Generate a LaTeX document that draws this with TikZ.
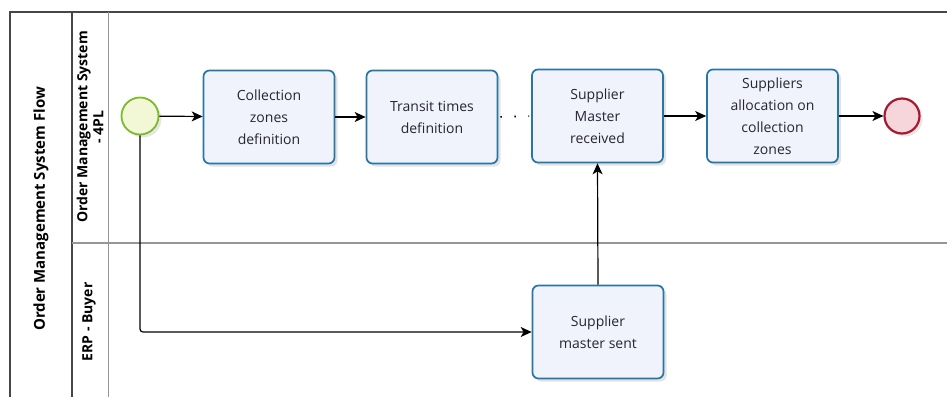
\documentclass[tikz,border=0pt]{standalone}
\usepackage{fontspec}
\setmainfont{Open Sans}
\usetikzlibrary{arrows.meta,shadows}
\definecolor{taskline}{RGB}{40,118,165}
\definecolor{taskfill}{RGB}{240,242,252}
\definecolor{startline}{RGB}{125,187,43}
\definecolor{startfill}{RGB}{242,248,214}
\definecolor{endline}{RGB}{166,25,46}
\definecolor{endfill}{RGB}{246,214,218}
\definecolor{poolline}{RGB}{70,70,70}
\definecolor{laneline}{RGB}{150,150,150}
\definecolor{txt}{RGB}{40,36,52}
\tikzset{
  task/.style={draw=taskline,line width=1.7pt,fill=taskfill,rounded corners=6pt,
    minimum width=131pt,minimum height=93pt,align=center,text=txt,
    font=\fontsize{14}{22}\selectfont,
    drop shadow={opacity=0.22,shadow xshift=3pt,shadow yshift=-3pt}},
  flow/.style={-{Stealth[length=11pt,width=10pt,inset=3pt]},line width=1.2pt},
  lanelabel/.style={rotate=90,align=center,font=\bfseries\fontsize{14}{16}\selectfont}
}
\begin{document}
\begin{tikzpicture}[x=1pt,y=-1pt]
\useasboundingbox (0,0) rectangle (947,397);
\draw[poolline,line width=1.2pt] (10,397) -- (10,12) -- (947,12);
\draw[poolline,line width=1.2pt] (72,12) -- (72,397);
\draw[laneline,line width=1pt] (108,12) -- (108,397);
\draw[laneline,line width=1.4pt] (72,243) -- (947,243);
\node[lanelabel,font=\bfseries\fontsize{15}{16}\selectfont] (pool) at (41,209) {Order Management System Flow};
\node[lanelabel] (lane4pl) at (90,127) {Order Management System\\- 4PL};
\node[lanelabel] (laneerp) at (89,322) {ERP - Buyer};
\node[circle,draw=startline,fill=startfill,line width=1.8pt,minimum size=37pt,
  drop shadow={opacity=0.2,shadow xshift=3pt,shadow yshift=-3pt}] (start) at (140,116) {};
\node[circle,draw=endline,fill=endfill,line width=2.2pt,minimum size=35pt,
  drop shadow={opacity=0.2,shadow xshift=3pt,shadow yshift=-3pt}] (stop) at (902,116) {};
\node[task] (zones) at (269,117) {Collection\\zones\\definition};
\node[task] (transit) at (432,117) {Transit times\\definition};
\node[task] (received) at (597.5,116) {Supplier\\Master\\received};
\node[task] (alloc) at (772.5,116) {Suppliers\\allocation on\\collection\\zones};
\node[task] (sent) at (598,332) {Supplier\\master sent};
\draw[flow] (start) -- (zones);
\draw[flow] (zones) -- (transit);
\draw[line width=1.6pt,dash pattern=on 1.6pt off 12.4pt,shorten >=2pt,shorten <=2pt] (transit.east) -- (received.west);
\draw[flow] (received) -- (alloc);
\draw[flow] (alloc) -- (stop);
\draw[flow,rounded corners=3pt] (start.south) |- (sent.west);
\draw[flow] (sent.north) -- (received.south);
\end{tikzpicture}
\end{document}
